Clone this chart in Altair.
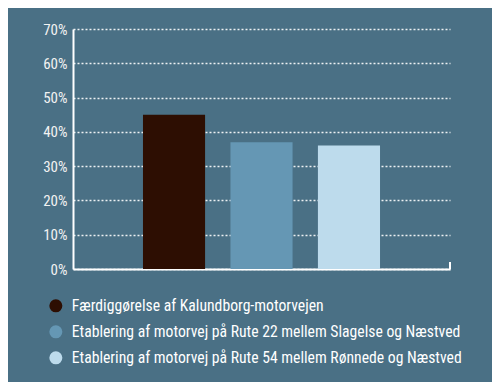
import altair as alt
import pandas as pd

categories = [
    "Færdiggørelse af Kalundborg-motorvejen",
    "Etablering af motorvej på Rute 22 mellem Slagelse og Næstved",
    "Etablering af motorvej på Rute 54 mellem Rønnede og Næstved",
]
values = [0.45, 0.37, 0.36]
colors = ["#2d0e02", "#6597b4", "#bddbec"]
y_ticks = [0, 0.1, 0.2, 0.3, 0.4, 0.5, 0.6, 0.7]

BG = "#4a7085"
FONT = "Roboto Condensed"

df = pd.DataFrame({"cat": categories, "value": values})

bars = alt.Chart(df).mark_bar().encode(
    x=alt.X(
        "cat:N",
        sort=categories,
        scale=alt.Scale(paddingInner=0.29, paddingOuter=0.8),
        axis=alt.Axis(labels=False, ticks=False, title=None, domainColor="white",
                      domainWidth=2, grid=False),
    ),
    y=alt.Y(
        "value:Q",
        scale=alt.Scale(domain=[0, 0.7]),
        axis=alt.Axis(
            values=y_ticks, format=".0%", title=None, ticks=False,
            labelColor="#f2f2f2", labelFont=FONT, labelFontSize=15, labelPadding=6,
            domainColor="white", domainWidth=2,
            grid=True, gridColor="white", gridDash=[2, 2], gridWidth=1.5, gridOpacity=0.9,
        ),
    ),
    color=alt.Color(
        "cat:N",
        sort=categories,
        scale=alt.Scale(domain=categories, range=colors),
        legend=alt.Legend(
            title=None, orient="none", legendX=-25, legendY=269,
            symbolType="circle", symbolSize=170, symbolOpacity=1, symbolStrokeWidth=0,
            labelColor="white", labelFont=FONT, labelFontSize=15.7, labelOffset=8,
            rowPadding=9, labelLimit=500,
        ),
    ),
)

end_tick = alt.Chart(df).mark_rule(color="white", strokeWidth=2).encode(
    x=alt.value(377), y=alt.value(240), y2=alt.value(233)
)

chart = (
    alt.layer(bars, end_tick)
    .properties(
        width=377, height=240,
        background=BG,
        padding={"left": 65, "top": 21, "right": 42, "bottom": 113},
        autosize=alt.AutoSizeParams(type="none"),
    )
    .configure_view(stroke=None)
)

chart.save("out.html", embed_options={"renderer": "svg", "actions": False})
